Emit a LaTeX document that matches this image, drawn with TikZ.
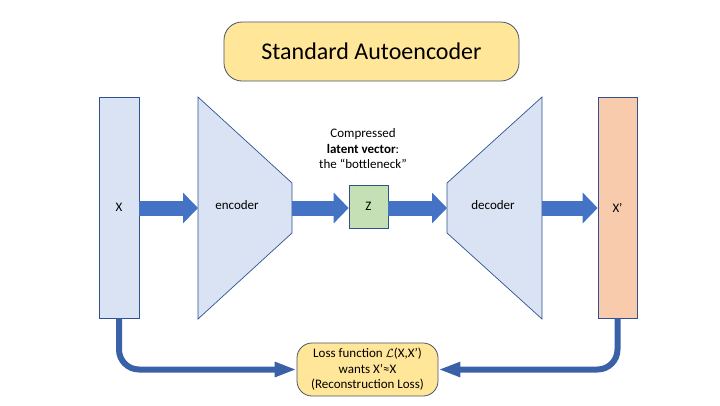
\documentclass[tikz,border=0pt]{standalone}
\usepackage{fontspec}
\setmainfont{Carlito}
\usetikzlibrary{arrows.meta}
\definecolor{boxblue}{HTML}{DAE3F3}
\definecolor{edgeblue}{HTML}{2F528F}
\definecolor{arrblue}{HTML}{4472C4}
\definecolor{zgreen}{HTML}{C5E0B4}
\definecolor{xorange}{HTML}{F8CBAD}
\definecolor{gold}{HTML}{FFE699}
\definecolor{darkedge}{HTML}{475569}
\tikzset{
  vecbox/.style={draw=edgeblue, line width=0.7pt, minimum width=40pt, minimum height=221pt, inner sep=0pt, font=\fontsize{13}{15}\selectfont},
  netshape/.style={draw=edgeblue, line width=0.7pt, fill=boxblue},
  blockarrow/.style={arrblue, line width=15pt, -{Triangle[width=30pt,length=15pt]}, shorten >=0pt},
  lossarrow/.style={draw=arrblue!85!black, line width=6pt, rounded corners=20pt, -{Triangle[width=14pt,length=22pt]}},
  pill/.style={draw=darkedge, line width=0.8pt, fill=gold, rounded corners=#1, inner sep=0pt},
  small/.style={font=\fontsize{13}{15.5}\selectfont, align=center}
}
\begin{document}
\begin{tikzpicture}[x=1pt,y=-1pt]
\useasboundingbox (0,0) rectangle (720,405);
% title
\node[pill=18pt, minimum width=295pt, minimum height=59pt, font=\fontsize{24}{28}\selectfont] (title) at (371.5,51.5) {Standard Autoencoder};
% input / output vectors
\node[vecbox, fill=boxblue] (X) at (119,207.5) {X};
\node[vecbox, fill=xorange, minimum width=39pt] (Xp) at (617.5,207.5) {X’};
% encoder trapezoid
\coordinate (encL) at (198,208);
\coordinate (encR) at (292,208);
\draw[netshape] (198,97) -- (292,183) -- (292,233) -- (198,319) -- cycle;
\node[small] (enc) at (237,205) {encoder};
% decoder trapezoid
\coordinate (decL) at (447,208);
\coordinate (decR) at (542,208);
\draw[netshape] (447,183) -- (542,97) -- (542,319) -- (447,233) -- cycle;
\node[small] (dec) at (493,205) {decoder};
% latent z
\node[draw=edgeblue, line width=0.7pt, fill=zgreen, minimum width=39pt, minimum height=43pt, inner sep=0pt, small] (Z) at (368.5,206.5) {Z};
\node[small] (lat) at (363,149) {Compressed\\\textbf{latent vector}:\\the “bottleneck”};
% block arrows
\draw[blockarrow] (X.east |- encL) -- (encL);
\draw[blockarrow] (encR) -- (Z.west |- encR);
\draw[blockarrow] (Z.east |- decL) -- (decL);
\draw[blockarrow] (decR) -- (Xp.west |- decR);
% loss box
\node[pill=15pt, minimum width=141pt, minimum height=53pt, small] (loss) at (367.5,369.5) {Loss function $\mathcal{L}$(X,X’)\\wants X’≈X\\(Reconstruction Loss)};
% loss connectors
\draw[lossarrow] (X.south) |- (loss.west);
\draw[lossarrow] (Xp.south) |- (loss.east);
\end{tikzpicture}
\end{document}
